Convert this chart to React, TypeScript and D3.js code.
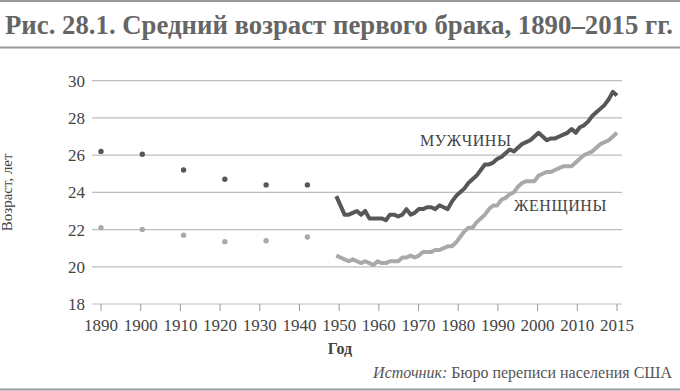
import React from "react";
import * as d3 from "d3";

// decennial census points
const censusYears = [1890, 1900, 1910, 1920, 1930, 1940];
const censusMen = [26.2, 26.05, 25.2, 24.7, 24.4, 24.4];
const censusWomen = [22.1, 22.0, 21.7, 21.35, 21.4, 21.6];

// annual series 1947-2015
const annualYears = d3.range(1947, 2016);
const menAnnual = [
  23.8, 23.3, 22.8, 22.8, 22.9, 23.0, 22.8, 23.0, 22.6, 22.6,
  22.6, 22.6, 22.5, 22.8, 22.8, 22.7, 22.8, 23.1, 22.8, 22.9,
  23.1, 23.1, 23.2, 23.2, 23.1, 23.3, 23.2, 23.1, 23.5, 23.8,
  24.0, 24.2, 24.5, 24.7, 24.9, 25.2, 25.5, 25.5, 25.6, 25.8,
  25.9, 26.1, 26.3, 26.2, 26.4, 26.6, 26.7, 26.8, 27.0, 27.2,
  27.0, 26.8, 26.9, 26.9, 27.0, 27.1, 27.2, 27.4, 27.2, 27.5,
  27.6, 27.8, 28.1, 28.3, 28.5, 28.7, 29.0, 29.4, 29.2,
];
const womenAnnual = [
  20.6, 20.5, 20.4, 20.3, 20.4, 20.3, 20.2, 20.3, 20.2, 20.1,
  20.3, 20.2, 20.2, 20.3, 20.3, 20.3, 20.5, 20.5, 20.6, 20.5,
  20.6, 20.8, 20.8, 20.8, 20.9, 20.9, 21.0, 21.1, 21.1, 21.3,
  21.6, 21.9, 22.1, 22.1, 22.4, 22.6, 22.8, 23.1, 23.3, 23.3,
  23.6, 23.7, 23.9, 24.0, 24.3, 24.5, 24.6, 24.6, 24.6, 24.9,
  25.0, 25.1, 25.1, 25.2, 25.3, 25.4, 25.4, 25.4, 25.6, 25.8,
  26.0, 26.1, 26.2, 26.4, 26.6, 26.7, 26.8, 27.0, 27.2,
];

const tickLabels = ["1890", "1900", "1910", "1920", "1930", "1940", "1950", "1960", "1970", "1980", "1990", "2000", "2010", "2015"];
const yTicks = [18, 20, 22, 24, 26, 28, 30];

const MEN = "#575757";
const WOMEN = "#a9a9a9";
const GRID = "#bdbdbd";
const FONT = "'Liberation Serif', 'DejaVu Serif', serif";

export default function App() {
  const x = d3.scaleLinear().domain([1890, 2015]).range([101, 617]);
  const y = d3.scaleLinear().domain([18, 30]).range([304, 80.7]);
  // labels are spread evenly, like a category axis
  const xl = d3.scalePoint().domain(tickLabels).range([101, 617]);

  const line = d3
    .line<[number, number]>()
    .x((d) => x(d[0]))
    .y((d) => y(d[1]));

  const menPts = annualYears.map((yr, i) => [yr, menAnnual[i]] as [number, number]);
  const womenPts = annualYears.map((yr, i) => [yr, womenAnnual[i]] as [number, number]);

  return (
    <svg
      width={680}
      height={391}
      style={{ position: "absolute", left: 0, top: 0, background: "#fff" }}
      fontFamily={FONT}
    >
      {/* title block */}
      <line x1={0} x2={680} y1={1} y2={1} stroke="#9a9a9a" strokeWidth={2} />
      <text
        x={5}
        y={34}
        fontSize={27}
        fontWeight="bold"
        fill="#656565"
        textLength={668}
        lengthAdjust="spacingAndGlyphs"
      >
        Рис. 28.1. Средний возраст первого брака, 1890–2015 гг.
      </text>
      <line x1={0} x2={680} y1={47.5} y2={47.5} stroke="#9a9a9a" strokeWidth={2} />

      {/* grid */}
      {yTicks.map((t) => (
        <g key={t}>
          <line x1={92} x2={622} y1={y(t)} y2={y(t)} stroke={GRID} strokeWidth={1.2} />
          <text x={85} y={y(t) + 6} textAnchor="end" fontSize={17} fill="#444">
            {t}
          </text>
        </g>
      ))}

      {/* x ticks */}
      {tickLabels.map((l) => (
        <g key={l}>
          <line x1={xl(l)} x2={xl(l)} y1={304} y2={311} stroke="#999" strokeWidth={1} />
          <text x={xl(l)} y={331} textAnchor="middle" fontSize={17} fill="#444">
            {l}
          </text>
        </g>
      ))}

      {/* census dots */}
      {censusYears.map((yr, i) => (
        <g key={yr}>
          <circle cx={x(yr)} cy={y(censusMen[i])} r={2.7} fill={MEN} />
          <circle cx={x(yr)} cy={y(censusWomen[i])} r={2.7} fill={WOMEN} />
        </g>
      ))}

      <path d={line(womenPts) || ""} fill="none" stroke={WOMEN} strokeWidth={4} strokeLinejoin="round" />
      <path d={line(menPts) || ""} fill="none" stroke={MEN} strokeWidth={4} strokeLinejoin="round" />

      <text x={420} y={146} fontSize={16} fill="#444" letterSpacing={0.6}>
        МУЖЧИНЫ
      </text>
      <text x={514} y={211} fontSize={16} fill="#444" letterSpacing={0.6}>
        ЖЕНЩИНЫ
      </text>

      {/* axis titles */}
      <text
        transform={`translate(12,${(y(18) + y(30)) / 2}) rotate(-90)`}
        textAnchor="middle"
        fontSize={15}
        fill="#444"
      >
        Возраст, лет
      </text>
      <text x={340} y={354} textAnchor="middle" fontSize={16} fontWeight="bold" fill="#444">
        Год
      </text>
      <text x={672} y={378} textAnchor="end" fontSize={16} fill="#555">
        <tspan fontStyle="italic">Источник:</tspan> Бюро переписи населения США
      </text>
      <line x1={0} x2={680} y1={389.5} y2={389.5} stroke="#9a9a9a" strokeWidth={2} />
    </svg>
  );
}
